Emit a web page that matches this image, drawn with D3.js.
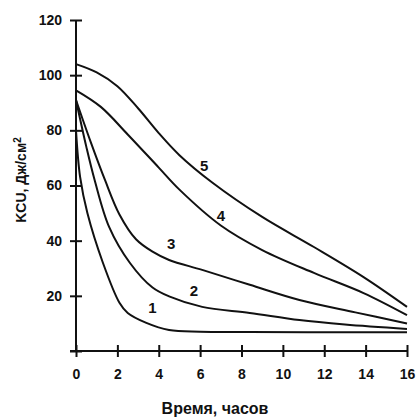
<!DOCTYPE html>
<html>
<head>
<meta charset="utf-8">
<script src="https://cdn.jsdelivr.net/npm/d3@7"></script>
<style>
  body { margin: 0; background: #fff; }
  svg { display: block; font-family: "Liberation Sans", Arial, sans-serif; }
</style>
</head>
<body>
<div id="chart"></div>
<script>
// hours / KCU readings for each curve
const curve1 = [[0, 80], [0.2, 63], [0.55, 50], [1.3, 32], [2.1, 17.5], [2.5, 13.8], [3.4, 10.2], [4.5, 7.6], [6, 7], [8.4, 6.9], [12, 6.8], [16, 6.8]];
const curve2 = [[0, 91], [0.5, 74], [0.9, 62], [1.6, 45], [2.6, 32], [3.7, 23], [4.5, 19.8], [6.1, 16], [8.4, 13.8], [10.8, 11.2], [13, 9.6], [16, 8]];
const curve3 = [[0, 91], [0.7, 76], [1.4, 62], [2.1, 49.5], [2.9, 40.5], [3.7, 36], [4.5, 33], [6.1, 29.4], [8.4, 24], [10.8, 18.5], [13.5, 14], [16, 10]];
const curve4 = [[0, 94.5], [1.2, 88.5], [2.5, 78.5], [4, 66.5], [5, 58.5], [7, 45.5], [9, 36.6], [11.5, 28.3], [13.9, 21], [16, 13]];
const curve5 = [[0, 104], [1, 101], [2, 96], [3, 88], [4, 79], [5, 71], [6.6, 61], [9, 48.6], [11.5, 37.7], [13.9, 26.8], [16, 16]];
const curves = [curve1, curve2, curve3, curve4, curve5];
const curveNames = ['1', '2', '3', '4', '5'];
// where each curve number sits (hours, KCU)
const labelSpots = [[3.7, 15.5], [5.7, 22], [4.6, 39], [7, 49], [6.2, 67]];
const xTicks = [0, 2, 4, 6, 8, 10, 12, 14, 16];
const yTicks = [0, 20, 40, 60, 80, 100, 120];

const w = 420;
const h = 419;

const x = d3.scaleLinear().domain([0, 16]).range([76, 407]);
const y = d3.scaleLinear().domain([0, 120]).range([351, 20]);

const svg = d3.select('#chart')
  .append('svg')
  .attr('width', w)
  .attr('height', h);

const xAxis = d3.axisBottom(x).tickValues(xTicks).tickSize(6).tickPadding(12);
const yAxis = d3.axisLeft(y).tickValues(yTicks).tickSize(6).tickPadding(8)
  .tickFormat(d => d === 0 ? '' : d);

const gx = svg.append('g')
  .attr('transform', `translate(0, ${y(0)})`)
  .call(xAxis);

const gy = svg.append('g')
  .attr('transform', `translate(${x(0)}, 0)`)
  .call(yAxis);

// ticks cross the axis line on both sides
gx.selectAll('.tick line').attr('y1', -6).attr('y2', 6);
gy.selectAll('.tick line').attr('x1', -6).attr('x2', 6);
gx.select('.domain').attr('d', `M${x(0) - 6},0H${x(16)}`);
gy.select('.domain').attr('d', `M0,${y(120)}V${y(0)}`);

svg.selectAll('.domain, .tick line')
  .attr('stroke', '#111')
  .attr('stroke-width', 2);
svg.selectAll('.tick text')
  .attr('font-size', 14)
  .attr('font-weight', 'bold')
  .attr('fill', '#111');

const line = d3.line()
  .x(d => x(d[0]))
  .y(d => y(d[1]))
  .curve(d3.curveCatmullRom.alpha(0.5));

svg.append('g')
  .selectAll('path')
  .data(curves)
  .enter()
  .append('path')
  .attr('d', line)
  .attr('fill', 'none')
  .attr('stroke', '#111')
  .attr('stroke-width', 2);

svg.append('g')
  .selectAll('text')
  .data(labelSpots)
  .enter()
  .append('text')
  .attr('x', d => x(d[0]))
  .attr('y', d => y(d[1]))
  .attr('text-anchor', 'middle')
  .attr('dy', '0.35em')
  .attr('font-size', 15)
  .attr('font-weight', 'bold')
  .attr('fill', '#111')
  .text((d, i) => curveNames[i]);

svg.append('text')
  .attr('x', 215)
  .attr('y', 414)
  .attr('text-anchor', 'middle')
  .attr('font-size', 16)
  .attr('font-weight', 'bold')
  .attr('fill', '#111')
  .text('Время, часов');

svg.append('text')
  .attr('text-anchor', 'middle')
  .attr('transform', `translate(26, ${y(62)})rotate(-90)`)
  .attr('font-size', 14)
  .attr('font-weight', 'bold')
  .attr('fill', '#111')
  .text('KCU, Дж/см')
  .append('tspan')
  .attr('dy', '-0.5em')
  .attr('font-size', 10)
  .text('2');
</script>
</body>
</html>
